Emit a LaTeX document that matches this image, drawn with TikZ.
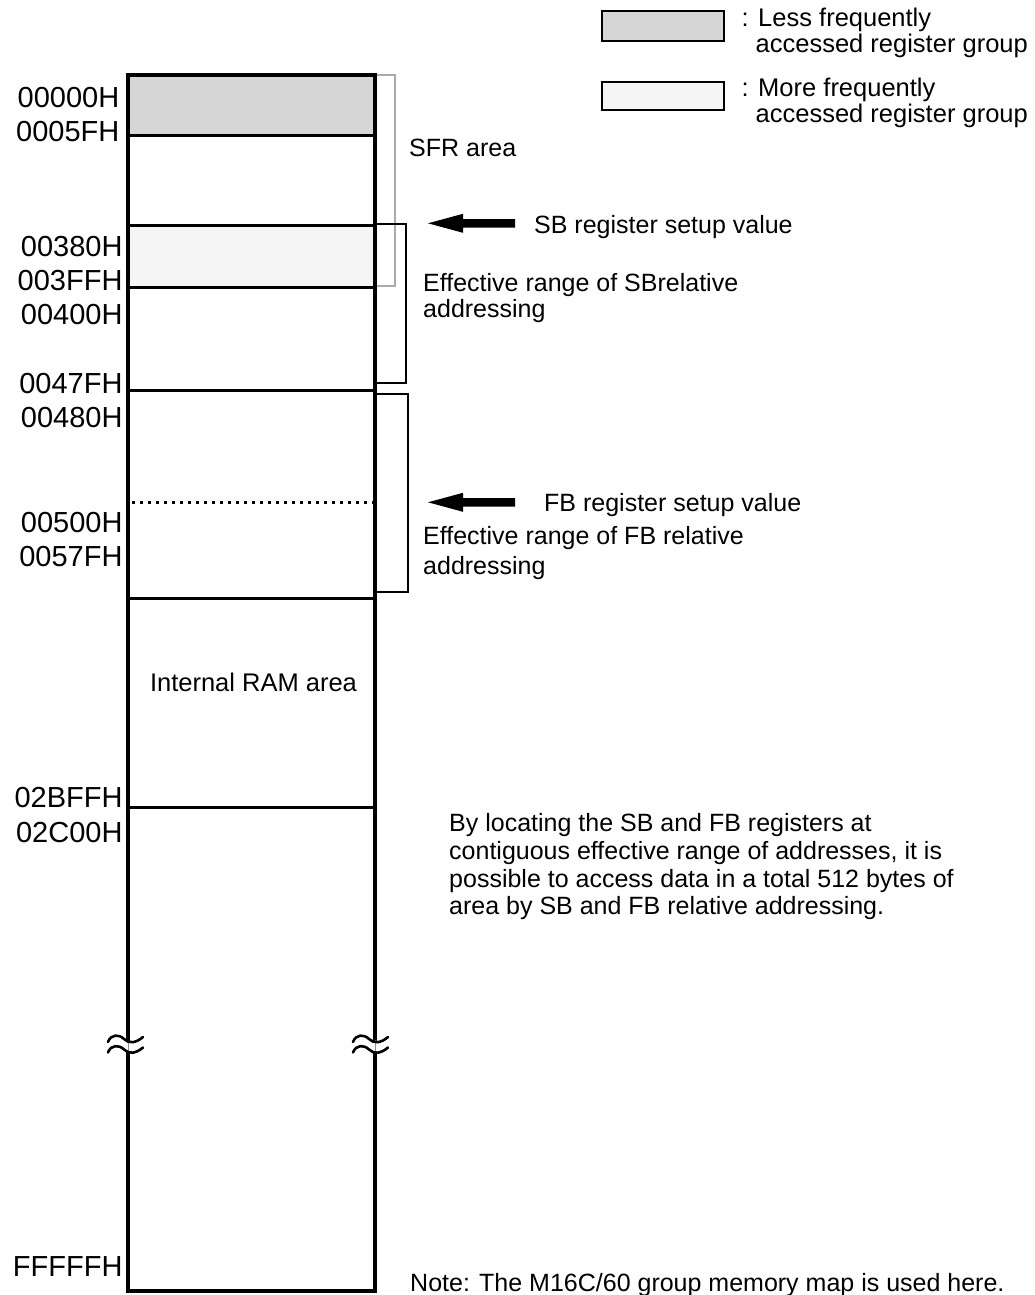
\documentclass[tikz,border=0pt]{standalone}
\usepackage{fontspec}
\setmainfont{Liberation Sans}
\definecolor{lessgray}{HTML}{D6D6D6}
\definecolor{moregray}{HTML}{F5F5F5}
\definecolor{sfrgray}{HTML}{AAAAAA}
\begin{document}
\begin{tikzpicture}[x=1pt,y=-1pt,
  addr/.style={anchor=base east,inner sep=0pt,font=\fontsize{29}{32}\selectfont},
  txt/.style={anchor=base west,inner sep=0pt,font=\fontsize{25}{28}\selectfont},
  leg/.style={anchor=base west,inner sep=0pt,font=\fontsize{25.5}{28}\selectfont},
  outerline/.style={line width=3.5pt},
  sepline/.style={line width=3pt},
  bracket/.style={line width=2pt},
  sfrbracket/.style={line width=2.5pt,draw=sfrgray},
  legbox/.style={line width=1.6pt,draw=black},
  wave/.style={line width=2.6pt,line cap=round},
  pointer/.style={fill=black}]
\useasboundingbox (0,0) rectangle (1035,1295);

% legend
\filldraw[legbox,fill=lessgray] (602,11) rectangle (724,41);
\filldraw[legbox,fill=moregray] (602,82) rectangle (724,110);
\node[leg] (leg1a) at (741.5,27) {: Less frequently};
\node[leg] (leg1b) at (755.5,53) {accessed register group};
\node[leg] (leg2a) at (741.5,97) {: More frequently};
\node[leg] (leg2b) at (755.5,123) {accessed register group};

% fills
\fill[lessgray] (128,75) rectangle (375,135.5);
\fill[moregray] (128,225) rectangle (375,287);

% brackets
\draw[sfrbracket] (375,75) -- (395,75) -- (395,286) -- (375,286);
\draw[bracket] (375,224) -- (406,224) -- (406,383) -- (375,383);
\draw[bracket] (375,394) -- (408,394) -- (408,592) -- (375,592);

% separators
\foreach \yy in {135.5,225,287,390,598,807}
  \draw[sepline] (128,\yy) -- (375,\yy);
\draw[line width=3pt,dash pattern=on 3pt off 5pt] (132,502) -- (373,502);

% outer frame
\draw[outerline] (128,75) rectangle (375,1291);

% break marks
\foreach \cx/\dx in {128/0,375/-2}{
  \fill[white] (\cx-3,1041) rectangle (\cx+3,1051);
  \draw[line width=0.6pt,black!45] (\cx,1040) -- (\cx,1052);
  \draw[wave] (\cx+\dx-20,1042) .. controls (\cx+\dx-17,1034) and (\cx+\dx-9,1034) .. (\cx+\dx-4,1039)
        .. controls (\cx+\dx+1,1044) and (\cx+\dx+8,1043) .. (\cx+\dx+15,1037);
  \draw[wave] (\cx+\dx-20,1052.5) .. controls (\cx+\dx-17,1044.5) and (\cx+\dx-9,1044.5) .. (\cx+\dx-4,1049.5)
        .. controls (\cx+\dx+1,1054.5) and (\cx+\dx+8,1053.5) .. (\cx+\dx+15,1047.5);
}

% address labels
\node[addr] (a00000) at (119.5,108) {00000H};
\node[addr] (a0005F) at (119.5,141.7) {0005FH};
\node[addr] (a00380) at (122.7,256.7) {00380H};
\node[addr] (a003FF) at (122.7,290) {003FFH};
\node[addr] (a00400) at (122.7,324) {00400H};
\node[addr] (a0047F) at (122.7,393) {0047FH};
\node[addr] (a00480) at (122.7,427.7) {00480H};
\node[addr] (a00500) at (122.7,532.7) {00500H};
\node[addr] (a0057F) at (122.7,566) {0057FH};
\node[addr] (a02BFF) at (122.7,807.7) {02BFFH};
\node[addr] (a02C00) at (122.7,842.7) {02C00H};
\node[addr] (aFFFFF) at (122.7,1276) {FFFFFH};

% texts
\node[txt] (sfr) at (409,156.7) {SFR area};
\node[txt] (sbset) at (534,233.3) {SB register setup value};
\node[txt] (sbr1) at (423,291) {Effective range of SBrelative};
\node[txt] (sbr2) at (423,317) {addressing};
\node[txt] (fbset) at (544,511.7) {FB register setup value};
\node[txt] (fbr1) at (423,544) {Effective range of FB relative};
\node[txt] (fbr2) at (423,574) {addressing};
\node[anchor=base,inner sep=0pt,font=\fontsize{25.5}{28}\selectfont] (ram) at (253.5,691.7) {Internal RAM area};
\node[txt] (p1) at (449,831.7) {By locating the SB and FB registers at};
\node[txt] (p2) at (449,859.4) {contiguous effective range of addresses, it is};
\node[txt] (p3) at (449,887.1) {possible to access data in a total 512 bytes of};
\node[txt] (p4) at (449,914.8) {area by SB and FB relative addressing.};
\node[txt] (note) at (410,1291) {Note: The M16C/60 group memory map is used here.};

% pointers
\coordinate (sbtip) at (428,223.3);
\coordinate (fbtip) at (428,502.3);
\foreach \tip in {sbtip,fbtip}
  \fill[pointer] (\tip) -- ++(35,-9.5) -- ++(0,5.25) -- ++(52,0) -- ++(0,8.5) -- ++(-52,0) -- ++(0,5.25) -- cycle;
\end{tikzpicture}
\end{document}
